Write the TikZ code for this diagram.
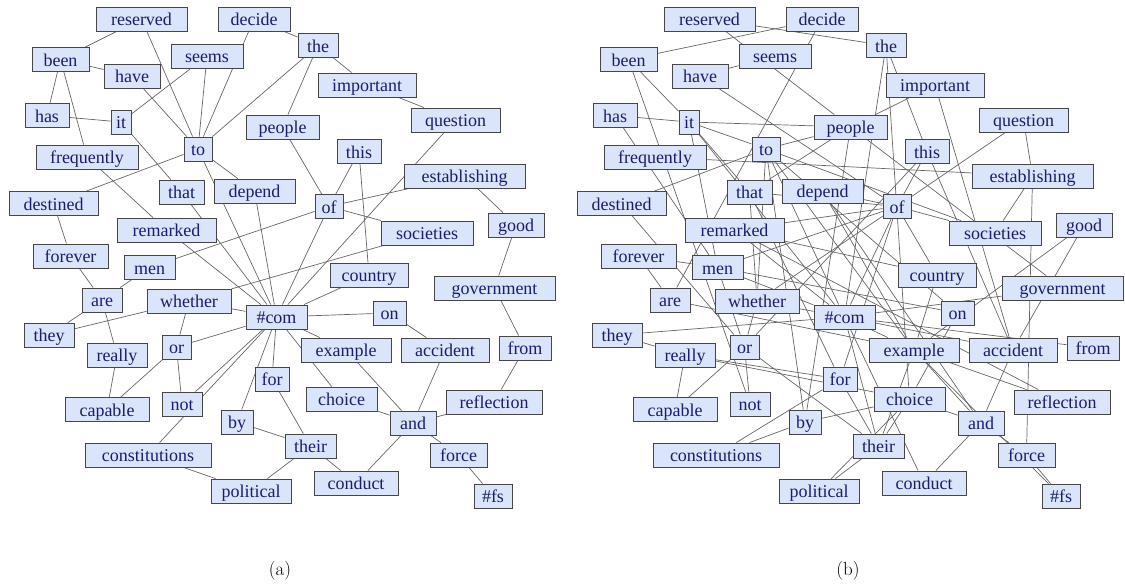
\documentclass[tikz,border=0pt]{standalone}
\usepackage{fontspec}
\newfontfamily\wordfont{Liberation Serif}
\usetikzlibrary{backgrounds}
\definecolor{wordfill}{HTML}{DAE5FB}
\definecolor{wordtext}{RGB}{28,28,110}
\definecolor{wordline}{RGB}{70,70,70}

\begin{document}
\begin{tikzpicture}[x=1pt,y=-1pt,
  word/.style={draw=wordline,line width=0.9pt,fill=wordfill,text=wordtext,
    font=\wordfont\fontsize{18}{20}\selectfont,minimum height=24pt,inner sep=2pt,
    text height=13pt,text depth=0pt},
  link/.style={draw=black!60,line width=0.7pt}]
\useasboundingbox (0,0) rectangle (1125,587);
% same word positions in both panels, (b) shifted right
\foreach \p/\dx in {a/0,b/568}
  \foreach \n/\x/\y/\w/\lbl in {
    reserved/141.5/19/91/reserved, decide/254/19/72/decide, the/318/45.5/40/the,
    been/60.5/59.5/57/been, seems/207/56/72/seems, have/132/76/56/have,
    important/367/85/98/important, has/47/115.5/44/has, it/121/122/20/it,
    question/455.5/120/89/question, people/282.5/127/73/people, to/198/149/28/to,
    frequently/87/157/102/frequently, this/359/151.5/44/this,
    establishing/464.5/176/121/establishing, that/181.5/192/45/that,
    depend/254.5/191/81/depend, destined/53.5/203.5/89/destined, of/329/206.5/28/of,
    good/516/225/56/good, remarked/166.5/230/99/remarked, societies/427/233/92/societies,
    forever/70.5/256/75/forever, men/149.5/267.5/51/men, country/369/275/78/country,
    government/494.5/288/121/government, are/102/300/40/are, whether/189/301/84/whether,
    com/276.5/317/61/\#com, on/389.5/313/33/on, they/49/335/50/they, or/176.5/347/29/or,
    really/117/355/60/really, example/346/350/90/example, accident/445/350/88/accident,
    from/525/348/52/from, for/272/379/34/for, not/182/404/40/not,
    capable/107/409.5/84/capable, choice/341.5/399/71/choice,
    reflection/494/402/96/reflection, by/237/422/32/by, and/413/423/46/and,
    their/310.5/446/51/their, constitutions/148/455/126/constitutions,
    force/458.5/455/57/force, conduct/356/483/84/conduct, political/251/491/80/political,
    fs/493/496/38/\#fs}
    \node[word,minimum width=\w*1pt] (\p-\n) at (\x+\dx,\y) {\lbl};

\begin{pgfonlayer}{background}
% (a)
\foreach \u/\v in {reserved/been, reserved/to, decide/to, decide/the, been/have, been/has,
    been/frequently, have/to, seems/it, seems/to, to/the, the/people, the/important,
    important/question, question/com, has/it, it/that, that/com, remarked/com,
    frequently/remarked, to/destined, to/depend, to/com, depend/com, destined/forever,
    forever/are, are/men, are/they, are/really, they/whether, whether/com, whether/or,
    men/of, people/of, this/of, this/country, of/societies, of/com, of/establishing,
    establishing/good, good/government, government/from, from/reflection, reflection/and,
    accident/and, on/accident, com/on, com/country, societies/whether, com/example,
    com/choice, com/for, com/by, com/not, com/constitutions, com/or, or/not, or/capable,
    really/capable, by/their, for/their, their/political, their/conduct,
    constitutions/political, choice/and, example/and, and/conduct, and/force, force/fs}
  \draw[link] (a-\u) -- (a-\v);
% (b)
\foreach \u/\v in {reserved/people, reserved/the, decide/been, decide/are, been/it, been/not,
    has/it, has/men, it/people, it/to, it/that, it/com, it/men, have/seems, have/of,
    to/people, to/whether, to/by, to/com, to/example, to/on, to/societies, destined/to,
    destined/or, frequently/establishing, the/com, the/this, the/choice, important/people,
    important/accident, people/that, people/government, by/people, question/of,
    question/establishing, establishing/societies, establishing/force, this/or,
    this/accident, this/of, that/whether, that/for, that/of, depend/of, depend/example,
    depend/and, remarked/country, remarked/com, remarked/reflection, remarked/of,
    of/societies, of/country, of/com, of/for, men/of, men/com, men/or, men/on, forever/men,
    forever/are, are/example, whether/com, whether/of, whether/or, they/com, they/really,
    really/capable, or/capable, or/not, or/their, really/for, really/choice,
    for/constitutions, for/their, by/choice, by/constitutions, on/choice, country/example,
    good/example, good/accident, com/government, com/accident, com/from, com/conduct,
    com/example, com/their, accident/and, example/and, example/fs, example/reflection,
    example/their, choice/and, choice/their, political/their, political/choice,
    and/conduct, and/force, force/fs}
  \draw[link] (b-\u) -- (b-\v);
\end{pgfonlayer}

\node (capa) at (280,571) {\fontsize{19}{22}\selectfont (a)};
\node (capb) at (848,571) {\fontsize{19}{22}\selectfont (b)};
\end{tikzpicture}
\end{document}
